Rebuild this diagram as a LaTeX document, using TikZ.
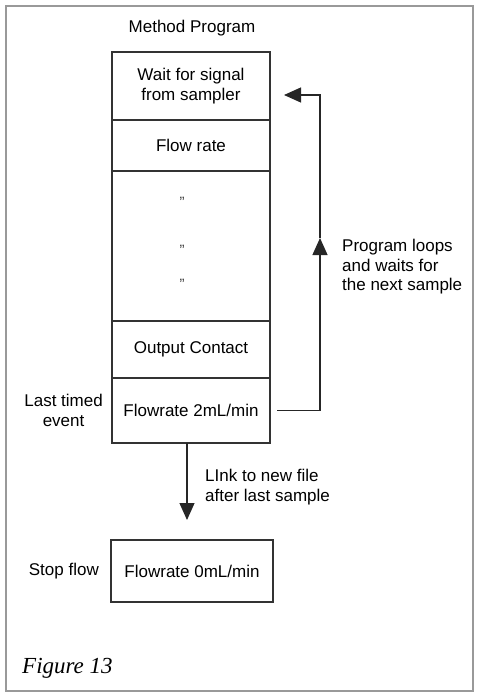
\documentclass[tikz,border=0pt]{standalone}
\usepackage{fontspec}
\setmainfont{Liberation Sans}
\newfontfamily\capfont{Liberation Serif}
\usetikzlibrary{positioning,arrows.meta}
\tikzset{cell/.style={draw=black!80,line width=1.2pt,minimum width=158pt,
        inner sep=0pt,outer sep=0pt,align=center},
    note/.style={align=left,inner sep=0pt},
    side/.style={align=center,inner sep=0pt},
    dot/.style={font=\fontsize{15}{15}\selectfont,text=black!75,inner sep=0pt},
    link/.style={draw=black!85,line width=1.2pt},
    tip/.style={-{Triangle[length=17pt,width=15pt]}}}
\begin{document}
\begin{tikzpicture}[x=1pt,y=-1pt,font=\fontsize{17}{19.5}\selectfont]
\useasboundingbox (0,0) rectangle (478,696);
\draw[black!40,line width=1.8pt] (6,6) rectangle (473,691);
\node (title) at (192,28) {Method Program};
% program stack
\node[cell,minimum height=68pt] (wait) at (191,86) {Wait for signal\\from sampler};
\node[cell,minimum height=51pt,below=0pt of wait] (flow) {Flow rate};
\node[cell,minimum height=150pt,below=0pt of flow] (dots) {};
\node[cell,minimum height=57pt,below=0pt of dots] (output) {Output Contact};
\node[cell,minimum height=65pt,below=0pt of output] (last) {Flowrate 2mL/min};
\node[dot] (d1) at (182,202) {"};
\node[dot] (d2) at (182,250) {"};
\node[dot] (d3) at (182,284) {"};
\node[side,left=9pt of last] (lastlbl) {Last timed\\event};
% loop back
\coordinate (mid) at (320,238);
\draw[link,tip] ([xshift=7pt]last.east) -| (mid);
\draw[link,tip] (mid) |- ([xshift=14pt,yshift=-9pt]wait.east);
\node[note,anchor=north west] (looplbl) at (342,239) {Program loops\\and waits for\\the next sample};
% stop
\node[cell,minimum width=162pt,minimum height=62pt] (stop) at (192,571) {Flowrate 0mL/min};
\node[side,left=12pt of stop] (stoplbl) {Stop flow};
\draw[link,tip] ([xshift=-4pt]last.south) -- ([xshift=-5pt,yshift=20pt]stop.north);
\node[note,anchor=north west] (linklbl) at (205,469) {LInk to new file\\after last sample};
\node[anchor=south west,inner sep=0pt] (fig) at (22,679) {\capfont\itshape\fontsize{23}{23}\selectfont Figure 13};
\end{tikzpicture}
\end{document}
